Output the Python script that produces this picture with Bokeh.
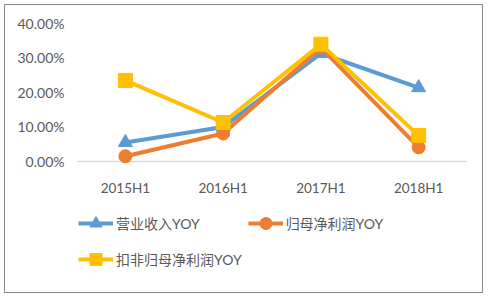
from bokeh.plotting import figure
from bokeh.layouts import column
from bokeh.models import Legend, LegendItem, FixedTicker, NumeralTickFormatter, Range1d
from bokeh.embed import file_html
from bokeh.resources import INLINE

periods = ["2015H1", "2016H1", "2017H1", "2018H1"]
revenue_yoy = [0.055, 0.100, 0.313, 0.214]
net_profit_yoy = [0.015, 0.081, 0.330, 0.041]
adj_net_profit_yoy = [0.235, 0.113, 0.340, 0.075]
series_names = ["营业收入YOY", "归母净利润YOY", "扣非归母净利润YOY"]
y_ticks = [0.0, 0.1, 0.2, 0.3, 0.4]

FONT = "Lato, 'Noto Sans CJK SC'"
TXT = "#595959"

p = figure(x_range=periods, y_range=Range1d(-0.032, 0.4435),
           width=477, height=195, output_backend="svg", toolbar_location=None,
           min_border_left=71, min_border_right=15, min_border_top=3, min_border_bottom=28)
p.outline_line_color = None
p.background_fill_color = "white"
p.border_fill_color = "white"

p.xgrid.grid_line_color = None
p.ygrid.ticker = FixedTicker(ticks=[0.0])
p.ygrid.grid_line_color = "#d9d9d9"
p.ygrid.grid_line_width = 1.5

p.yaxis.ticker = FixedTicker(ticks=y_ticks)
p.yaxis.formatter = NumeralTickFormatter(format="0.00%")
for ax in (p.xaxis, p.yaxis):
    ax.axis_line_color = None
    ax.major_tick_line_color = None
    ax.minor_tick_line_color = None
    ax.major_label_text_font = FONT
    ax.major_label_text_color = TXT
p.yaxis.major_label_text_font_size = "14px"
p.xaxis.major_label_text_font_size = "13.5px"
p.yaxis.major_label_standoff = 6
p.xaxis.major_label_standoff = 1

colors = ["#5B9BD5", "#ED7D31", "#FFC000"]
markers = ["triangle", "circle", "square"]
sizes = [14, 13, 14]
data = [revenue_yoy, net_profit_yoy, adj_net_profit_yoy]
for vals, c, m, s in zip(data, colors, markers, sizes):
    p.line(periods, vals, line_color=c, line_width=4)
    p.scatter(periods, vals, marker=m, size=s, fill_color=c, line_color=c)

# legend panel: a second figure stacked below (its series lie outside its view range)
lg = figure(width=477, height=92, output_backend="svg", toolbar_location=None,
            x_range=periods, y_range=Range1d(5, 6),
            x_axis_location=None, y_axis_location=None,
            min_border_left=71, min_border_right=15, min_border_top=0, min_border_bottom=0)
lg.outline_line_color = None
lg.xgrid.grid_line_color = None
lg.ygrid.grid_line_color = None
items = []
for name, vals, c, m, s in zip(series_names, data, colors, markers, sizes):
    l = lg.line(periods, vals, line_color=c, line_width=4)
    sc = lg.scatter(periods, vals, marker=m, size=s - 2, fill_color=c, line_color=c)
    items.append(LegendItem(label=name, renderers=[l, sc]))

legend = Legend(items=items, orientation="horizontal", ncols=2, location=(2, 18),
                glyph_width=35, glyph_height=30, label_height=30, spacing=6,
                label_standoff=3, padding=0, margin=0,
                label_text_font=FONT, label_text_font_size="14px", label_text_color=TXT,
                border_line_color=None, background_fill_alpha=0)
lg.add_layout(legend, "center")

layout = column(p, lg, spacing=0)
layout.margin = (4, 0, 0, 4)
layout.styles = {"border": "1px solid #8a8a8a"}

open("out.html", "w").write(file_html(layout, INLINE))
